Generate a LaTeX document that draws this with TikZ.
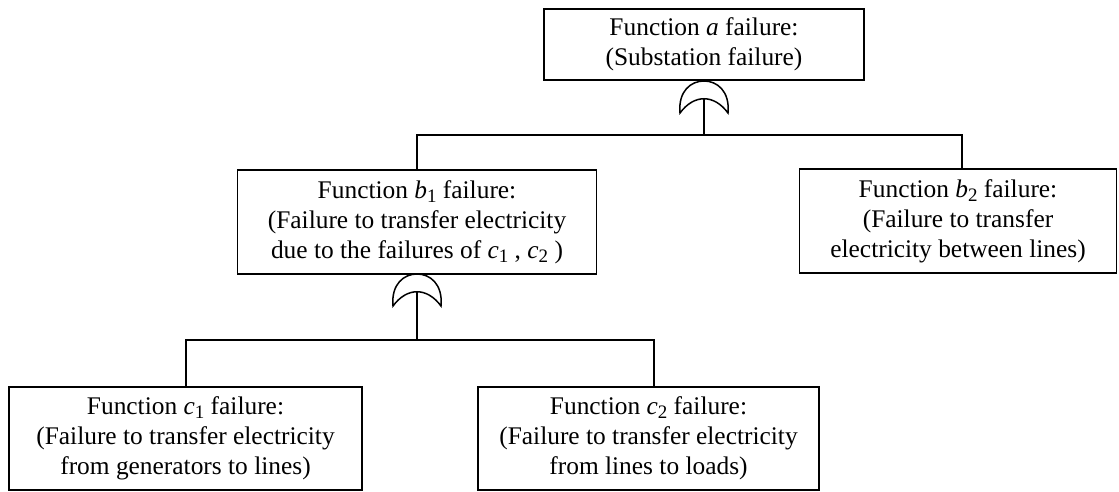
\documentclass[tikz,border=0pt]{standalone}
\usepackage{fontspec}
\setmainfont{Liberation Serif}
\newcommand\fvar[2]{\textit{#1}\raisebox{-0.35ex}{\fontsize{9.5}{9.5}\selectfont #2}}
\begin{document}
\begin{tikzpicture}[x=0.5pt,y=-0.5pt,
  box/.style={draw, line width=0.9pt, inner sep=0pt, align=center,
    font=\fontsize{12.7}{15}\selectfont},
  conn/.style={line width=0.55pt},
  gate/.style={line width=0.75pt},
  orgate/.pic={\draw[gate] (-24,0) .. controls (-26,-22) and (-13,-32) .. (0,-32)
     .. controls (13,-32) and (26,-22) .. (24,0)
     .. controls (10,-19) and (-10,-19) .. cycle;}]
\useasboundingbox (0,0) rectangle (1119,492);

\node[box, minimum width=160pt, minimum height=35.5pt] (a) at (704,44.5)
  {Function \textit{a} failure:\\(Substation failure)};
\node[box, minimum width=179.5pt, minimum height=52pt] (b1) at (417,222)
  {Function \fvar{b}{1} failure:\\(Failure to transfer electricity\\due to the failures of \fvar{c}{1} , \fvar{c}{2} )};
\node[box, minimum width=158.5pt, minimum height=52pt] (b2) at (958,221)
  {Function \fvar{b}{2} failure:\\(Failure to transfer\\electricity between lines)};
\node[box, minimum width=176.5pt, minimum height=51.5pt] (c1) at (185.5,438.5)
  {Function \fvar{c}{1} failure:\\(Failure to transfer electricity\\from generators to lines)};
\node[box, minimum width=170.5pt, minimum height=51.5pt] (c2) at (648.5,438.5)
  {Function \fvar{c}{2} failure:\\(Failure to transfer electricity\\from lines to loads)};

% gates
\pic at (704,113) {orgate};
\pic at (417,306) {orgate};
\coordinate (ga) at (704,99);
\coordinate (gb) at (417,292);
\coordinate (ja) at (704,135);
\coordinate (jb) at (417,340);
\coordinate (b2t) at (962,169);
\coordinate (c1t) at (186,387);
\coordinate (c2t) at (654,387);

\draw[conn] (ga) -- (ja);
\draw[conn] (b1.north) |- (ja) -| (b2t);
\draw[conn] (gb) -- (jb);
\draw[conn] (c1t) |- (jb) -| (c2t);
\end{tikzpicture}
\end{document}
